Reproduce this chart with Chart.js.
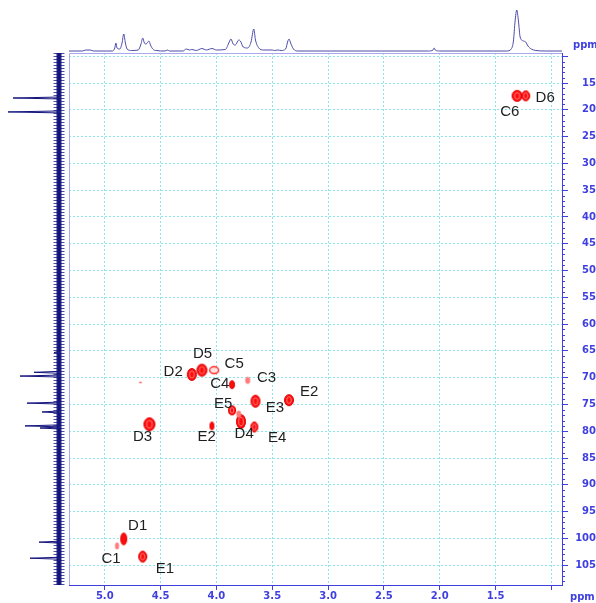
<!DOCTYPE html>
<html>
<head>
<meta charset="utf-8">
<script src="https://cdn.jsdelivr.net/npm/chart.js@4.4.1/dist/chart.umd.min.js"></script>
<style>
  html, body { margin: 0; padding: 0; background: #ffffff; }
  #wrap { position: relative; width: 596px; height: 603px; overflow: hidden; }
  #wrap canvas { position: absolute; }
</style>
</head>
<body>
<div id="wrap">
  <canvas id="main" width="596" height="603" style="left:0;top:0"></canvas>
  <canvas id="proton"></canvas>
  <canvas id="carbon"></canvas>
</div>
<script>
// ---- axis ranges (ppm) ----
const hRange = [0.905, 5.32];   // 1H, drawn right-to-left
const cRange = [9.4, 108.7];    // 13C, drawn top-to-bottom
const hStep = 0.5;
const cStep = 5;

// ---- HSQC cross peaks (1H ppm, 13C ppm) ----
const peakH = [1.307, 1.23, 4.60, 4.22, 4.13, 4.02, 3.86, 3.72, 3.35, 3.65, 3.86, 3.78, 3.80, 3.66, 4.04, 4.83, 4.89, 4.66, 4.68];
const peakC = [17.4, 17.4, 78.7, 69.4, 68.6, 68.6, 71.3, 70.5, 74.2, 74.4, 76.1, 78.2, 76.8, 79.2, 79.0, 100.1, 101.4, 103.4, 70.9];

// ---- assignment labels ----
const labelText = ['D6', 'C6', 'D5', 'C5', 'D2', 'C3', 'C4', 'E2', 'E5', 'E3', 'D3', 'E2', 'D4', 'E4', 'D1', 'C1', 'E1'];
const labelH = [1.056, 1.372, 4.124, 3.841, 4.387, 3.551, 3.969, 3.169, 3.939, 3.476, 4.661, 4.088, 3.751, 3.456, 4.705, 4.944, 4.461];
const labelC = [17.7, 20.4, 65.6, 67.5, 69.0, 70.0, 71.2, 72.7, 74.8, 75.6, 81.0, 81.0, 80.5, 81.2, 97.7, 103.9, 105.6];

// ---- 1H projection (ppm, intensity) ----
const protonPpm = [5.32, 5.20, 5.17, 5.13, 5.10, 4.93, 4.91, 4.90, 4.89, 4.865, 4.845, 4.83, 4.815, 4.80, 4.76, 4.70, 4.675, 4.66, 4.645, 4.63, 4.605, 4.59, 4.57, 4.54, 4.46, 4.44, 4.42, 4.30, 4.27, 4.24, 4.22, 4.18, 4.13, 4.09, 4.04, 4.00, 3.92, 3.885, 3.87, 3.85, 3.83, 3.80, 3.785, 3.76, 3.72, 3.69, 3.665, 3.65, 3.62, 3.58, 3.50, 3.48, 3.45, 3.42, 3.38, 3.36, 3.35, 3.335, 3.31, 3.27, 2.10, 2.06, 2.05, 2.04, 2.00, 1.40, 1.36, 1.34, 1.325, 1.31, 1.295, 1.28, 1.25, 1.23, 1.21, 1.18, 1.14, 1.05, 0.905];
const protonInt = [0, 0, 1, 1, 0, 0, 3, 8, 3, 2, 8, 17, 8, 2, 0.5, 1, 7, 13, 8, 7, 10, 6, 2, 0.5, 0, 1, 0, 0, 2, 1, 1.5, 0.5, 2.5, 1, 2.5, 1, 1.5, 9, 12, 7, 6, 11, 10, 4, 3, 9, 22, 11, 3, 1, 1, 0.5, 1, 0.5, 2, 10, 12, 8, 2, 0, 0, 1, 3, 1, 0, 0, 2, 10, 30, 41, 30, 14, 10, 9, 5, 2, 0.5, 0, 0];

// ---- 13C projection lines (ppm, intensity) ----
const carbonPpm = [17.8, 20.4, 65.3, 69.0, 69.7, 74.75, 76.4, 79.0, 79.4, 100.7, 103.7];
const carbonInt = [46, 51, 5, 25, 39, 32, 17, 34, 19, 20, 29];

// ---- styles ----
const axisBlue = '#3f3fe0';
const gridCyan = '#8fe6ea';
const frameBlue = '#a9a9f2';
const labelFont = '15px "Liberation Sans", Arial, sans-serif';
const tickFont = { family: 'DejaVu Sans', weight: 'bold', size: 10 };
// contour blob size (w, h in px) and rendering kind per cross peak
const peakSize = [[10, 11], [8, 10], [11, 13], [9, 12], [10, 12], [9, 7], [5, 8], [5, 7], [9, 11], [9, 12], [7, 9], [9, 14], [5, 7], [7, 10], [4, 8], [6, 12], [4, 7], [8, 11], [3, 2]];
const peakKind = ['s', 's', 's', 's', 's', 'r', 's', 'l', 's', 's', 's', 's', 'l', 's', 's', 's', 'l', 's', 'l'];

Chart.defaults.font.family = 'DejaVu Sans';

// contour-like blob drawn into a small canvas used as point style
function blob(w, h, kind) {
  const c = document.createElement('canvas');
  c.width = Math.ceil(w) + 3;
  c.height = Math.ceil(h) + 3;
  const g = c.getContext('2d');
  const cx = c.width / 2, cy = c.height / 2;
  g.beginPath();
  g.ellipse(cx, cy, w / 2, h / 2, 0, 0, Math.PI * 2);
  if (kind === 'r') {
    g.fillStyle = '#ffe2e2'; g.fill();
    g.lineWidth = 1.4; g.strokeStyle = '#ff3030'; g.stroke();
  } else if (kind === 'l') {
    g.fillStyle = '#ff7a7a'; g.fill();
  } else {
    g.fillStyle = '#ff0c0c'; g.fill();
    g.lineWidth = 1; g.strokeStyle = '#e20000'; g.stroke();
    if (w >= 7) {
      g.beginPath();
      g.ellipse(cx, cy, w * 0.26, h * 0.3, 0, 0, Math.PI * 2);
      g.lineWidth = 1; g.strokeStyle = 'rgba(255,140,140,0.85)'; g.stroke();
    }
  }
  return c;
}
const blobs = peakSize.map((s, i) => blob(s[0], s[1], peakKind[i]));

// plot frame (left/top edges), minor ticks and axis unit labels
const framePlugin = {
  id: 'frame',
  afterDraw(chart) {
    const { ctx, chartArea: a, scales } = chart;
    ctx.save();
    ctx.strokeStyle = frameBlue;
    ctx.lineWidth = 1;
    ctx.beginPath();
    ctx.moveTo(a.left + 0.5, a.bottom);
    ctx.lineTo(a.left + 0.5, a.top + 0.5);
    ctx.lineTo(a.right, a.top + 0.5);
    ctx.stroke();
    // minor ticks every 1 ppm on the 13C axis
    ctx.strokeStyle = axisBlue;
    ctx.beginPath();
    for (let v = Math.ceil(cRange[0]); v <= cRange[1]; v++) {
      if (v % cStep === 0) continue;
      const y = Math.round(scales.y.getPixelForValue(v)) + 0.5;
      ctx.moveTo(a.right, y);
      ctx.lineTo(a.right + 3, y);
    }
    ctx.stroke();
    ctx.fillStyle = axisBlue;
    ctx.font = 'bold 10px "DejaVu Sans"';
    ctx.textBaseline = 'middle';
    ctx.textAlign = 'left';
    ctx.fillText('ppm', 573, 45);
    ctx.fillText('ppm', 570, 597);
    ctx.restore();
  }
};

// assignment labels placed at their shift coordinates
const labelPlugin = {
  id: 'labels',
  afterDatasetsDraw(chart) {
    const { ctx, scales } = chart;
    ctx.save();
    ctx.font = labelFont;
    ctx.fillStyle = '#1e1e1e';
    ctx.textAlign = 'center';
    ctx.textBaseline = 'middle';
    labelText.forEach((t, i) => {
      ctx.fillText(t, scales.x.getPixelForValue(labelH[i]), scales.y.getPixelForValue(labelC[i]));
    });
    ctx.restore();
  }
};

const main = new Chart(document.getElementById('main'), {
  type: 'scatter',
  data: {
    datasets: [{
      data: peakH.map((h, i) => ({ x: h, y: peakC[i] })),
      pointStyle: ctx => blobs[ctx.dataIndex],
      pointRadius: 5
    }]
  },
  options: {
    responsive: false,
    animation: false,
    devicePixelRatio: 1,
    events: [],
    layout: { padding: { left: 69, top: 53, right: 0, bottom: 0 } },
    plugins: { legend: { display: false }, tooltip: { enabled: false } },
    scales: {
      x: {
        type: 'linear', position: 'bottom', reverse: true,
        min: hRange[0], max: hRange[1],
        afterFit: s => { s.height = 18; },
        ticks: {
          stepSize: hStep, includeBounds: false, autoSkip: false, maxRotation: 0,
          padding: 0, color: axisBlue, font: tickFont,
          callback: v => (Math.abs(v - 1) < 1e-6 ? '' : Number(v).toFixed(1))
        },
        grid: { color: gridCyan, lineWidth: 1, tickLength: 5, tickColor: axisBlue, tickWidth: 1 },
        border: { display: true, color: axisBlue, width: 1, dash: [2, 2] }
      },
      y: {
        type: 'linear', position: 'right', reverse: true,
        min: cRange[0], max: cRange[1],
        afterFit: s => { s.width = 34; },
        ticks: {
          stepSize: cStep, includeBounds: false, autoSkip: false,
          crossAlign: 'far', padding: 5, color: axisBlue, font: tickFont,
          callback: v => (Math.abs(v - 10) < 1e-6 ? '' : String(Math.round(v)))
        },
        grid: { color: gridCyan, lineWidth: 1, tickLength: 6, tickColor: axisBlue, tickWidth: 1 },
        border: { display: true, color: axisBlue, width: 1, dash: [2, 2] }
      }
    }
  },
  plugins: [framePlugin, labelPlugin]
});

const area = main.chartArea;

// ---- 1H projection above the plot ----
const pc = document.getElementById('proton');
pc.width = Math.round(area.right - area.left);
pc.height = Math.round(area.top);
pc.style.left = Math.round(area.left) + 'px';
pc.style.top = '0px';
new Chart(pc, {
  type: 'scatter',
  data: {
    datasets: [{
      data: protonPpm.map((p, i) => ({ x: p, y: protonInt[i] })),
      showLine: true, pointRadius: 0, borderWidth: 1,
      borderColor: '#4c4caa', cubicInterpolationMode: 'monotone', clip: false
    }]
  },
  options: {
    responsive: false, animation: false, devicePixelRatio: 1, events: [],
    plugins: { legend: { display: false }, tooltip: { enabled: false } },
    scales: {
      x: { type: 'linear', display: false, reverse: true, min: hRange[0], max: hRange[1] },
      y: { type: 'linear', display: false, min: -2, max: 51 }
    }
  }
});

// ---- 13C projection left of the plot ----
const cc = document.getElementById('carbon');
cc.width = Math.round(area.left);
cc.height = Math.round(area.bottom - area.top) + 6;
cc.style.left = '0px';
cc.style.top = Math.round(area.top) - 3 + 'px';
const spikePts = [{ x: 0, y: cRange[0] }];
carbonPpm.forEach((c, i) => {
  spikePts.push({ x: 0, y: c - 0.18 }, { x: carbonInt[i], y: c }, { x: 0, y: c + 0.18 });
});
spikePts.push({ x: 0, y: cRange[1] });
const baseLine = [{ x: 0, y: cRange[0] }, { x: 0, y: cRange[1] }];
new Chart(cc, {
  type: 'scatter',
  data: {
    datasets: [
      // noisy baseline: striped outer band plus a solid core
      { data: baseLine, showLine: true, pointRadius: 0, borderWidth: 11,
        borderColor: 'rgba(20,20,130,0.75)', borderDash: [1, 2], clip: false },
      { data: baseLine, showLine: true, pointRadius: 0, borderWidth: 5,
        borderColor: 'rgba(16,16,120,0.92)', clip: false },
      { data: spikePts, showLine: true, pointRadius: 0, borderWidth: 1,
        borderColor: '#14147e', clip: false }
    ]
  },
  options: {
    responsive: false, animation: false, devicePixelRatio: 1, events: [],
    layout: { padding: { top: 3, bottom: 3 } },
    plugins: { legend: { display: false }, tooltip: { enabled: false } },
    scales: {
      x: { type: 'linear', display: false, reverse: true, min: -10, max: 59 },
      y: { type: 'linear', display: false, reverse: true, min: cRange[0], max: cRange[1] }
    }
  }
});
</script>
</body>
</html>
